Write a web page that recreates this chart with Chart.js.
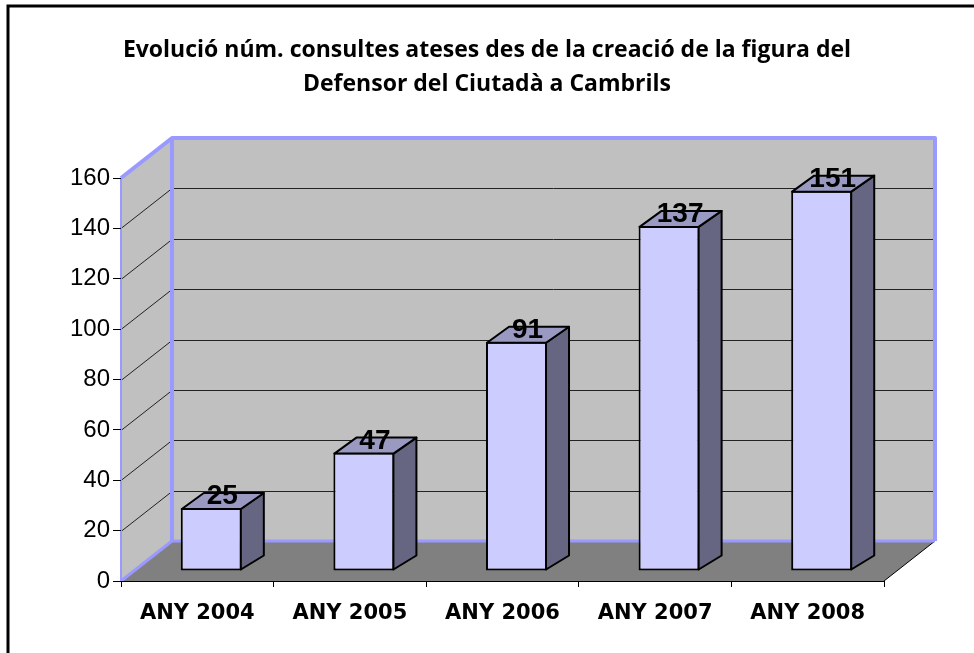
<!DOCTYPE html>
<html>
<head>
<meta charset="utf-8">
<script src="https://cdn.jsdelivr.net/npm/chart.js@4/dist/chart.umd.min.js"></script>
<style>
  html, body { margin: 0; padding: 0; background: #fff; }
</style>
</head>
<body>
<canvas id="chart" width="974" height="653"></canvas>
<script>
// data
const categories = ["ANY 2004", "ANY 2005", "ANY 2006", "ANY 2007", "ANY 2008"];
const consultes = [25, 47, 91, 137, 151];
const yTicks = [0, 20, 40, 60, 80, 100, 120, 140, 160];
const titleLines = [
    "Evolució núm. consultes ateses des de la creació de la figura del",
    "Defensor del Ciutadà a Cambrils"
];

// 3d look
const WALL_DX = 51, WALL_DY = 40;      // depth of walls and floor
const BAR_DX = 14, BAR_DY = 10;        // bar front face offset
const DEPTH_DX = 22, DEPTH_DY = 15;    // bar depth
const WALL_BLUE = "#9999ff";

function poly(ctx, pts) {
    ctx.beginPath();
    ctx.moveTo(pts[0][0], pts[0][1]);
    for (let i = 1; i < pts.length; i++) ctx.lineTo(pts[i][0], pts[i][1]);
    ctx.closePath();
}

const threeD = {
    id: "threeD",
    beforeDraw(chart) {
        const ctx = chart.ctx;
        const a = chart.chartArea;
        const y = chart.scales.y;
        ctx.save();

        // frame (only top and left visible)
        ctx.strokeStyle = "#000";
        ctx.lineWidth = 3;
        ctx.beginPath();
        ctx.moveTo(8, 660);
        ctx.lineTo(8, 6);
        ctx.lineTo(980, 6);
        ctx.stroke();

        // side wall
        ctx.fillStyle = "#c0c0c0";
        poly(ctx, [[a.left, a.top], [a.left + WALL_DX, a.top - WALL_DY],
                   [a.left + WALL_DX, a.bottom - WALL_DY], [a.left, a.bottom]]);
        ctx.fill();

        // back wall
        ctx.fillRect(a.left + WALL_DX, a.top - WALL_DY, a.right - a.left, a.bottom - a.top);

        // floor
        ctx.fillStyle = "#808080";
        poly(ctx, [[a.left, a.bottom], [a.right, a.bottom],
                   [a.right + WALL_DX, a.bottom - WALL_DY], [a.left + WALL_DX, a.bottom - WALL_DY]]);
        ctx.fill();
        ctx.strokeStyle = "#000";
        ctx.lineWidth = 1;
        ctx.beginPath();
        ctx.moveTo(a.right, a.bottom);
        ctx.lineTo(a.right + WALL_DX, a.bottom - WALL_DY);
        ctx.stroke();

        // gridlines on walls
        ctx.strokeStyle = "#222";
        ctx.lineWidth = 1;
        yTicks.forEach(v => {
            if (v === 0 || v === 160) return;
            const py = Math.round(y.getPixelForValue(v)) + 0.5;
            ctx.beginPath();
            ctx.moveTo(a.left, py);
            ctx.lineTo(a.left + WALL_DX, py - WALL_DY);
            ctx.lineTo(a.right + WALL_DX, py - WALL_DY);
            ctx.stroke();
        });

        // blue wall edges
        ctx.strokeStyle = WALL_BLUE;
        ctx.lineJoin = "round";
        ctx.lineWidth = 4;
        ctx.beginPath();
        ctx.moveTo(a.left, a.top);
        ctx.lineTo(a.left + WALL_DX, a.top - WALL_DY);
        ctx.lineTo(a.right + WALL_DX, a.top - WALL_DY);
        ctx.lineTo(a.right + WALL_DX, a.bottom - WALL_DY);
        ctx.stroke();
        ctx.beginPath();
        ctx.moveTo(a.left + WALL_DX, a.top - WALL_DY);
        ctx.lineTo(a.left + WALL_DX, a.bottom - WALL_DY);
        ctx.stroke();
        ctx.lineWidth = 3;
        ctx.beginPath();
        ctx.moveTo(a.left, a.bottom);
        ctx.lineTo(a.left + WALL_DX, a.bottom - WALL_DY);
        ctx.lineTo(a.right + WALL_DX, a.bottom - WALL_DY);
        ctx.stroke();
        ctx.lineWidth = 2;
        ctx.beginPath();
        ctx.moveTo(a.left, a.top);
        ctx.lineTo(a.left, a.bottom);
        ctx.stroke();

        ctx.restore();
    },
    beforeDatasetsDraw(chart) {
        chart.ctx.save();
        chart.ctx.translate(BAR_DX, -BAR_DY);
    },
    afterDatasetsDraw(chart) {
        const ctx = chart.ctx;
        ctx.restore();
        ctx.save();
        const meta = chart.getDatasetMeta(0);
        meta.data.forEach((bar, i) => {
            const p = bar.getProps(["x", "y", "base", "width"], true);
            const left = p.x - p.width / 2 + BAR_DX;
            const right = p.x + p.width / 2 + BAR_DX;
            const top = p.y - BAR_DY;
            const bottom = p.base - BAR_DY;

            ctx.lineWidth = 2;
            ctx.lineJoin = "round";
            ctx.strokeStyle = "#000";

            // side face
            ctx.fillStyle = "#666682";
            poly(ctx, [[right - 1, top + 1], [right + DEPTH_DX, top - DEPTH_DY],
                       [right + DEPTH_DX, bottom - DEPTH_DY], [right - 1, bottom - 1]]);
            ctx.fill();
            ctx.stroke();

            // top face
            ctx.fillStyle = "#9999c2";
            poly(ctx, [[left + 1, top + 1], [left + 1 + DEPTH_DX, top - DEPTH_DY],
                       [right + DEPTH_DX, top - DEPTH_DY], [right - 1, top + 1]]);
            ctx.fill();
            ctx.stroke();

            // value label
            ctx.fillStyle = "#000";
            ctx.font = "bold 28px 'Liberation Sans', Arial, sans-serif";
            ctx.textAlign = "center";
            ctx.textBaseline = "alphabetic";
            ctx.fillText(String(consultes[i]), p.x + BAR_DX + DEPTH_DX / 2, top - 4);
        });
        ctx.restore();
    }
};

new Chart(document.getElementById("chart"), {
    type: "bar",
    data: {
        labels: categories,
        datasets: [{
            data: consultes,
            backgroundColor: "#ccccff",
            borderColor: "#000",
            borderWidth: 2,
            borderSkipped: false,
            categoryPercentage: 1,
            barPercentage: 0.4,
            clip: false
        }]
    },
    options: {
        responsive: false,
        animation: false,
        devicePixelRatio: 1,
        layout: { padding: 0 },
        plugins: {
            legend: { display: false },
            tooltip: { enabled: false },
            title: {
                display: true,
                text: titleLines,
                color: "#000",
                font: { family: "'Open Sans', Lato, sans-serif", size: 23, weight: "bold", lineHeight: "34px" },
                padding: { top: 33, bottom: 77 }
            }
        },
        scales: {
            x: {
                grid: { drawOnChartArea: false, tickLength: 6, color: "#000", offset: true },
                border: { color: "#000", width: 1 },
                ticks: {
                    color: "#000",
                    padding: 14,
                    maxRotation: 0,
                    font: { family: "'DejaVu Sans', Verdana, sans-serif", size: 21, weight: "bold" }
                },
                afterFit: s => { s.height = 72; }
            },
            y: {
                min: 0,
                max: 160,
                afterBuildTicks: s => { s.ticks = yTicks.map(v => ({ value: v })); },
                grid: { drawOnChartArea: false, tickLength: 8, color: "#000" },
                border: { display: false },
                ticks: {
                    color: "#000",
                    padding: 3,
                    font: { family: "'Liberation Sans', Arial, sans-serif", size: 24 }
                },
                afterFit: s => { s.width = 121; }
            },
            // empty right-hand space taken by the 3d depth
            depth: {
                position: "right",
                grid: { display: false },
                border: { display: false },
                ticks: { display: false },
                afterFit: s => { s.width = 90; }
            }
        }
    },
    plugins: [threeD]
});
</script>
</body>
</html>
